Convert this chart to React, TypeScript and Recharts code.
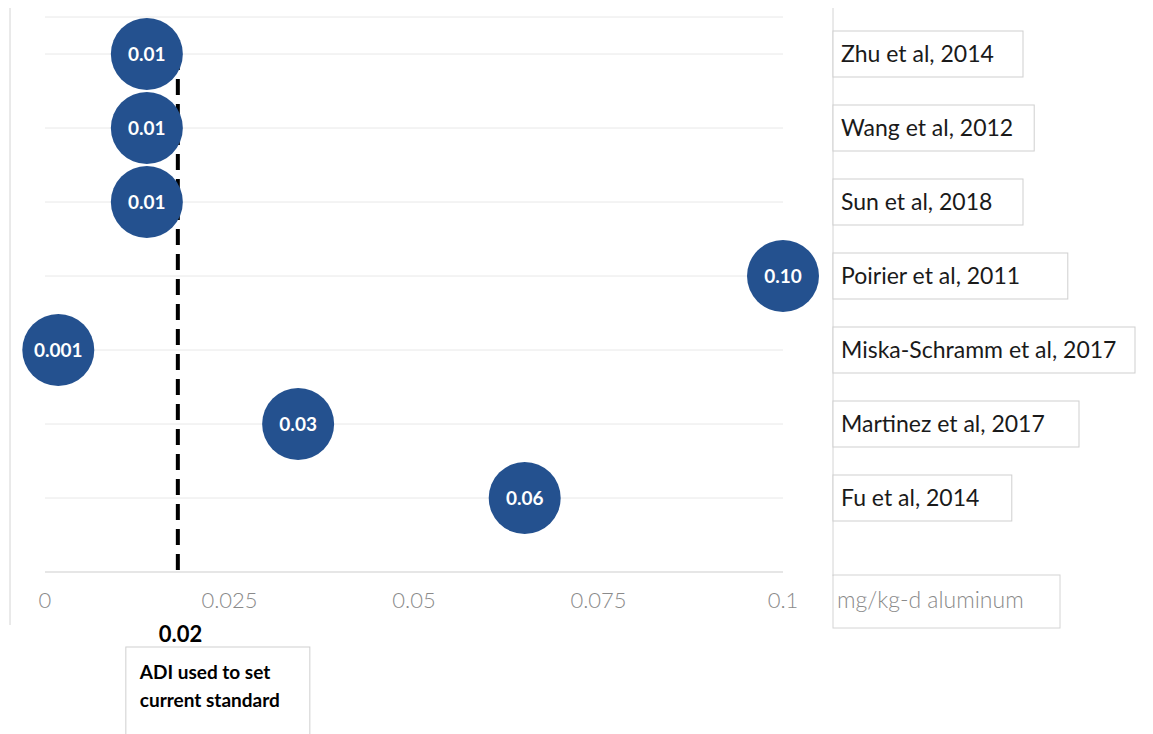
import {
  CartesianGrid,
  ReferenceLine,
  Scatter,
  ScatterChart,
  XAxis,
  YAxis,
  LabelList,
} from "recharts";

const studies = [
  "Zhu et al, 2014",
  "Wang et al, 2012",
  "Sun et al, 2018",
  "Poirier et al, 2011",
  "Miska-Schramm et al, 2017",
  "Martinez et al, 2017",
  "Fu et al, 2014",
];
const rows = [7, 6, 5, 4, 3, 2, 1];
const doses = [0.0138, 0.0138, 0.0138, 0.1, 0.0018, 0.0343, 0.065];
const doseLabels = ["0.01", "0.01", "0.01", "0.10", "0.001", "0.03", "0.06"];
const xTicks = [0, 0.025, 0.05, 0.075, 0.1];
const xTickLabels = ["0", "0.025", "0.05", "0.075", "0.1"];
const adiDose = 0.018;
const adiLabel = "0.02";
const adiNote = ["ADI used to set", "current standard"];
const unitLabel = "mg/kg-d aluminum";

const data = studies.map((study, i) => ({
  study,
  row: rows[i],
  dose: doses[i],
  label: doseLabels[i],
}));

const FONT = "Lato, 'Open Sans', sans-serif";
const BLUE = "#24518f";

function Bubble(props: any) {
  const { cx, cy } = props;
  return <circle cx={cx} cy={cy} r={36} fill={BLUE} />;
}

function StudyTick(props: any) {
  const { x, y, payload } = props;
  const i = rows.indexOf(payload.value);
  if (i < 0) return null;
  const name = studies[i];
  const bx = x + 42;
  const w = name.length * 11.2 + 22;
  const top = i === 0 ? y - 60 : y - 37;
  const bot = i === rows.length - 1 ? y + 78 : y + 37;
  return (
    <g>
      <line x1={bx} x2={bx} y1={top} y2={bot} stroke="#d4d4d4" />
      <rect x={bx} y={y - 23} width={w} height={46} fill="#fff" stroke="#cfcfcf" />
      <text x={bx + 8} y={y + 8} fontFamily={FONT} fontSize={23} fill="#1a1a1a">
        {name}
      </text>
    </g>
  );
}

function DoseTick(props: any) {
  const { x, y, payload, index } = props;
  const i = xTicks.indexOf(payload.value);
  return (
    <g>
      <text
        x={x}
        y={y + 28}
        textAnchor="middle"
        fontFamily={FONT}
        fontWeight={300}
        fontSize={22}
        fill="#8a8a8a"
      >
        {xTickLabels[i]}
      </text>
      {index === xTicks.length - 1 && (
        <g>
          <rect x={x + 50} y={y - 5} width={227} height={53} fill="#fff" stroke="#d4d4d4" />
          <text x={x + 54} y={y + 28} fontFamily={FONT} fontWeight={300} fontSize={23} fill="#8a8a8a">
            {unitLabel}
          </text>
        </g>
      )}
    </g>
  );
}

function AdiLabel(props: any) {
  const { viewBox } = props;
  const x = viewBox.x;
  const bottom = viewBox.y + viewBox.height;
  return (
    <g fontFamily={FONT} fontWeight={700} fill="#000">
      <text x={x - 19} y={bottom + 70} fontSize={22}>
        {adiLabel}
      </text>
      <rect x={x - 52} y={bottom + 75} width={184} height={100} fill="#fff" stroke="#cfcfcf" />
      <text x={x - 38} y={bottom + 107} fontSize={19}>
        {adiNote[0]}
      </text>
      <text x={x - 38} y={bottom + 135} fontSize={19}>
        {adiNote[1]}
      </text>
    </g>
  );
}

export default function App() {
  return (
    <div style={{ width: 1145, height: 726, background: "#fff" }}>
      <ScatterChart
        width={1145}
        height={726}
        margin={{ top: 9, right: 0, bottom: 102, left: 37 }}
      >
        <line x1={2} x2={2} y1={0} y2={617} stroke="#d4d4d4" />
        <CartesianGrid horizontal vertical={false} stroke="#e8e8e8" />
        <XAxis
          type="number"
          dataKey="dose"
          domain={[0, 0.1]}
          ticks={xTicks}
          tick={<DoseTick />}
          tickLine={false}
          axisLine={{ stroke: "#d9d9d9" }}
          height={60}
          interval={0}
        />
        <YAxis
          type="number"
          dataKey="row"
          orientation="right"
          domain={[0, 7.5]}
          ticks={rows}
          tick={<StudyTick />}
          tickLine={false}
          axisLine={false}
          width={370}
          interval={0}
        />
        <ReferenceLine
          segment={[
            { x: adiDose, y: 7 },
            { x: adiDose, y: 0 },
          ]}
          stroke="#000"
          strokeWidth={4}
          strokeDasharray="16 9"
          label={<AdiLabel />}
        />
        <Scatter data={data} shape={<Bubble />} isAnimationActive={false}>
          <LabelList
            dataKey="label"
            position="center"
            fill="#fff"
            fontFamily={FONT}
            fontWeight={700}
            fontSize={19}
          />
        </Scatter>
      </ScatterChart>
    </div>
  );
}
